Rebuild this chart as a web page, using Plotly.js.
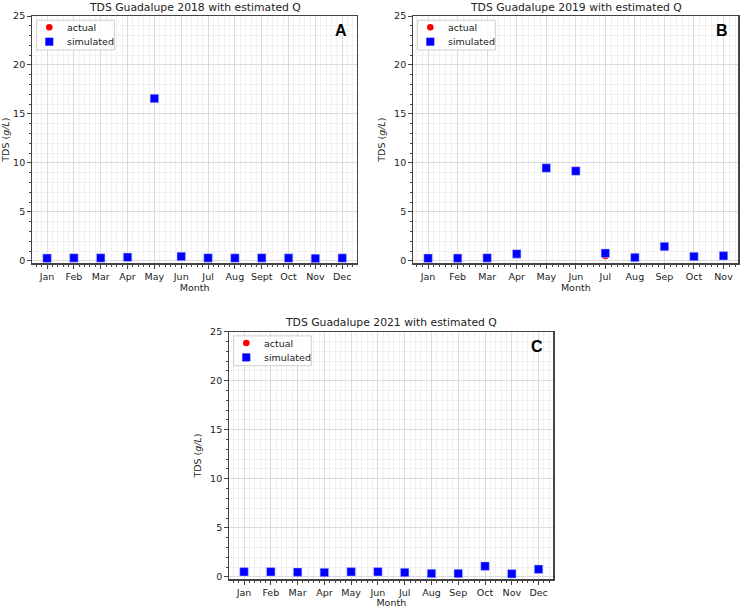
<!DOCTYPE html>
<html>
<head>
<meta charset="utf-8">
<script src="https://cdn.plot.ly/plotly-3.0.1.min.js"></script>
<style>html,body{margin:0;padding:0;background:#fff;}#chart{width:741px;height:608px;}</style>
</head>
<body>
<div id="chart"></div>
<script>
// ---- data ----
const months2018 = ["Jan","Feb","Mar","Apr","May","Jun","Jul","Aug","Sept","Oct","Nov","Dec"];
const sim2018    = [0.27,0.30,0.30,0.37,16.58,0.45,0.30,0.28,0.30,0.28,0.25,0.28];
const act2018    = [0.27,0.30,0.30,0.37,16.58,0.45,0.30,0.28,0.30,0.28,0.25,0.28];

const months2019 = ["Jan","Feb","Mar","Apr","May","Jun","Jul","Aug","Sep","Oct","Nov"];
const sim2019    = [0.27,0.27,0.30,0.71,9.48,9.17,0.78,0.34,1.46,0.44,0.51];
const act2019    = [0.27,0.27,0.30,0.71,9.48,9.17,0.51,0.34,1.46,0.44,0.51];

const months2021 = ["Jan","Feb","Mar","Apr","May","Jun","Jul","Aug","Sep","Oct","Nov","Dec"];
const sim2021    = [0.51,0.51,0.48,0.44,0.51,0.51,0.44,0.34,0.34,1.09,0.31,0.78];
const act2021    = [0.51,0.51,0.48,0.44,0.51,0.51,0.44,0.34,0.34,1.09,0.31,0.78];

const titles = ["TDS Guadalupe 2018 with estimated Q","TDS Guadalupe 2019 with estimated Q","TDS Guadalupe 2021 with estimated Q"];
const panelLabels = ["A","B","C"];
const seriesNames = ["actual","simulated"];

// ---- build ----
const FONT = "DejaVu Sans, sans-serif";
const W = 741, H = 608;
const panels = [
  {months: months2018, sim: sim2018, act: act2018, box:[32.3,357,16,263.3]},
  {months: months2019, sim: sim2019, act: act2019, box:[413.3,738.3,16,263.3]},
  {months: months2021, sim: sim2021, act: act2021, box:[229.3,553.3,331.7,579.3]}
];

const data = [];
const layout = {
  width: W, height: H,
  margin: {l:0, r:0, t:0, b:0},
  paper_bgcolor: "#fff", plot_bgcolor: "#fff",
  font: {family: FONT, size: 9, color: "#222"},
  annotations: [],
  shapes: [],
  showlegend: false
};
const px = v => v / W, py = v => 1 - v / H;

panels.forEach((p, i) => {
  const sfx = i === 0 ? "" : String(i + 1);
  const xa = "x" + sfx, ya = "y" + sfx;
  const xs = p.months.map((_, k) => k);
  data.push({
    x: xs, y: p.act, xaxis: xa, yaxis: ya, type: "scatter", mode: "markers",
    name: seriesNames[0],
    marker: {symbol: "circle", color: "#ff0000", size: 7}
  });
  data.push({
    x: xs, y: p.sim, xaxis: xa, yaxis: ya, type: "scatter", mode: "markers",
    name: seriesNames[1],
    marker: {symbol: "square", color: "#0000ff", size: 8.5, line: {color: "rgba(200,200,255,0.9)", width: 0.6}}
  });
  const [l, r, t, b] = p.box;
  const n = p.months.length - 1;
  const pad = n * 0.05;
  layout["xaxis" + sfx] = {
    domain: [px(l), px(r)], anchor: ya,
    range: [-pad, n + pad],
    tickvals: xs, ticktext: p.months,
    tickfont: {family: FONT, size: 9.5, color: "#222"},
    ticks: "outside", ticklen: 4, tickcolor: "#444",
    showline: true, linecolor: "#444", linewidth: 1.2, mirror: true,
    showgrid: true, gridcolor: "#dcdcdc", gridwidth: 1,
    zeroline: false,
    minor: {dtick: 0.2, tick0: 0, ticks: "outside", ticklen: 2, tickcolor: "#444", showgrid: true, gridcolor: "#f1f1f1", gridwidth: 1},
    title: {text: "Month", font: {family: FONT, size: 9.5, color: "#222"}, standoff: 0}
  };
  layout["yaxis" + sfx] = {
    domain: [py(b), py(t)], anchor: xa,
    range: [-0.25, 25],
    tickvals: [0,5,10,15,20,25],
    tickfont: {family: FONT, size: 9.5, color: "#222"},
    ticks: "outside", ticklen: 4, tickcolor: "#444",
    showline: true, linecolor: "#444", linewidth: 1.2, mirror: true,
    showgrid: true, gridcolor: "#dcdcdc", gridwidth: 1,
    zeroline: false,
    minor: {dtick: 1, tick0: 0, ticks: "outside", ticklen: 2, tickcolor: "#444", showgrid: true, gridcolor: "#f1f1f1", gridwidth: 1},
    title: {text: "TDS (<i>g/L</i>)", font: {family: FONT, size: 9.5, color: "#222"}, standoff: 6}
  };
  // legend (matplotlib-style box)
  const lx0 = l + 4.4, ly0 = t + 4.2, lx1 = l + 82, ly1 = t + 34;
  layout.shapes.push({type: "rect", xref: "paper", yref: "paper",
    x0: px(lx0), x1: px(lx1), y0: py(ly0), y1: py(ly1),
    line: {color: "#cfcfcf", width: 1}, fillcolor: "rgba(255,255,255,0.85)"});
  const mx = l + 17;
  const rows = [t + 11.3, t + 25.7];
  layout.shapes.push({type: "circle", xref: "paper", yref: "paper",
    x0: px(mx - 3.3), x1: px(mx + 3.3), y0: py(rows[0] - 3.3), y1: py(rows[0] + 3.3),
    line: {width: 0}, fillcolor: "#ff0000"});
  layout.shapes.push({type: "rect", xref: "paper", yref: "paper",
    x0: px(mx - 4), x1: px(mx + 4), y0: py(rows[1] - 4), y1: py(rows[1] + 4),
    line: {width: 0}, fillcolor: "#0000ff"});
  seriesNames.forEach((nm, k) => {
    layout.annotations.push({
      text: nm, xref: "paper", yref: "paper", x: px(l + 33), y: py(rows[k]),
      xanchor: "left", yanchor: "middle", showarrow: false,
      font: {family: FONT, size: 9.5, color: "#222"}
    });
  });
  layout.annotations.push({
    text: titles[i], xref: "paper", yref: "paper",
    x: px((l + r) / 2), y: py(t - 8.8), xanchor: "center", yanchor: "middle",
    showarrow: false, borderpad: 0, font: {family: FONT, size: 10.8, color: "#222"}
  });
  layout.annotations.push({
    text: "<b>" + panelLabels[i] + "</b>", xref: "paper", yref: "paper",
    x: px(r - 8), y: py(t + 4), xanchor: "right", yanchor: "top",
    showarrow: false, font: {family: "Liberation Sans, Arial, sans-serif", size: 16, color: "#000"}
  });
});

Plotly.newPlot("chart", data, layout, {displayModeBar: false, staticPlot: true});
</script>
</body>
</html>
